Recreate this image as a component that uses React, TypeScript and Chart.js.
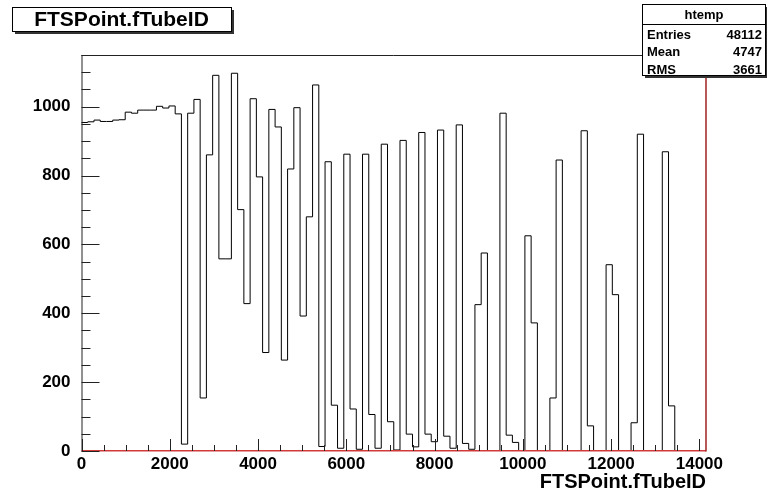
import React, { useEffect, useRef } from 'react';
import { Chart, registerables } from 'chart.js';

Chart.register(...registerables);

// ---- data ----
const xMin = 0;
const xMax = 14150;
const binCounts = [
  952, 954, 956, 961, 957, 957, 961, 962, 984, 981,
  990, 990, 990, 1001, 996, 1002, 979, 20, 981, 1021,
  154, 860, 1091, 558, 558, 1097, 701, 428, 1023, 796,
  286, 992, 941, 264, 819, 997, 392, 680, 1063, 13,
  840, 133, 8, 862, 122, 5, 862, 106, 8, 891,
  85, 3, 902, 49, 12, 925, 49, 27, 932, 43,
  8, 947, 22, 5, 425, 575, 0, 0, 981, 46,
  25, 0, 625, 372, 0, 0, 154, 845, 0, 0,
  0, 930, 73, 0, 0, 541, 454, 0, 0, 82,
  920, 0, 0, 0, 869, 131, 0, 0, 0, 0,
];
const xTickValues = [0, 2000, 4000, 6000, 8000, 10000, 12000, 14000];
const yTickValues = [0, 200, 400, 600, 800, 1000];
const yMax = 1150;
const histTitle = 'FTSPoint.fTubeID';
const xAxisTitle = 'FTSPoint.fTubeID';
const statsName = 'htemp';
const statsLabels = ['Entries', 'Mean', 'RMS'];
const statsValues = ['48112', '4747', '3661'];

const FONT = '"Liberation Sans", Arial, Helvetica, sans-serif';

export default function App() {
  const ref = useRef<HTMLCanvasElement>(null);

  useEffect(() => {
    const canvas = ref.current!;
    const binWidth = (xMax - xMin) / binCounts.length;
    const points = binCounts.map((v, i) => ({ x: xMin + i * binWidth, y: v }));
    points.push({ x: xMax, y: binCounts[binCounts.length - 1] });

    const rootPlugin = {
      id: 'rootDecor',
      afterDraw(chart: any) {
        const ctx = chart.ctx as CanvasRenderingContext2D;
        const { left, right, top, bottom } = chart.chartArea;
        const xs = chart.scales.x;
        const ys = chart.scales.y;
        ctx.save();
        // frame
        ctx.lineWidth = 1;
        ctx.strokeStyle = '#222';
        ctx.beginPath();
        ctx.moveTo(left, top + 0.5);
        ctx.lineTo(right, top + 0.5);
        ctx.moveTo(left + 0.5, top);
        ctx.lineTo(left + 0.5, bottom);
        ctx.stroke();
        ctx.strokeStyle = '#d23a3a';
        ctx.lineWidth = 1.5;
        ctx.beginPath();
        ctx.moveTo(left, Math.round(bottom) - 0.25);
        ctx.lineTo(right, Math.round(bottom) - 0.25);
        ctx.stroke();
        ctx.strokeStyle = '#a02020';
        ctx.lineWidth = 1.5;
        ctx.beginPath();
        ctx.moveTo(right, top);
        ctx.lineTo(right, bottom + 0.5);
        ctx.stroke();

        // y ticks (inward)
        ctx.strokeStyle = '#222';
        ctx.lineWidth = 1;
        ctx.beginPath();
        for (let v = 0; v <= yMax; v += 50) {
          const py = Math.round(ys.getPixelForValue(v)) + 0.5;
          const len = v % 200 === 0 ? 18 : 9;
          ctx.moveTo(left, py);
          ctx.lineTo(left + len, py);
        }
        // x ticks (upward)
        for (let v = 0; v <= xMax; v += 500) {
          const px = Math.round(xs.getPixelForValue(v)) + 0.5;
          const len = v % 2000 === 0 ? 12 : 6;
          ctx.moveTo(px, bottom);
          ctx.lineTo(px, bottom - len);
        }
        ctx.stroke();

        // title box
        const tb = { x: 12, y: 7, w: 219, h: 24 };
        ctx.fillStyle = '#333';
        ctx.fillRect(tb.x + 3, tb.y + 3, tb.w, tb.h);
        ctx.fillStyle = '#fff';
        ctx.fillRect(tb.x, tb.y, tb.w, tb.h);
        ctx.strokeStyle = '#000';
        ctx.strokeRect(tb.x + 0.5, tb.y + 0.5, tb.w, tb.h);
        ctx.fillStyle = '#000';
        ctx.font = `bold 21px ${FONT}`;
        ctx.textAlign = 'center';
        ctx.textBaseline = 'middle';
        ctx.fillText(histTitle, tb.x + tb.w / 2, tb.y + tb.h / 2 + 1);

        // stats box
        const sb = { x: 642, y: 4, w: 124, h: 71 };
        ctx.fillStyle = '#333';
        ctx.fillRect(sb.x + 3, sb.y + 3, sb.w, sb.h);
        ctx.fillStyle = '#fff';
        ctx.fillRect(sb.x, sb.y, sb.w, sb.h);
        ctx.strokeStyle = '#000';
        ctx.strokeRect(sb.x + 0.5, sb.y + 0.5, sb.w - 1, sb.h);
        ctx.beginPath();
        ctx.moveTo(sb.x, sb.y + 20.5);
        ctx.lineTo(sb.x + sb.w, sb.y + 20.5);
        ctx.stroke();
        ctx.fillStyle = '#000';
        ctx.font = `bold 13px ${FONT}`;
        ctx.textAlign = 'center';
        ctx.fillText(statsName, sb.x + sb.w / 2, sb.y + 11);
        statsLabels.forEach((lab, i) => {
          const yy = sb.y + 31 + i * 17.5;
          ctx.textAlign = 'left';
          ctx.fillText(lab, sb.x + 5, yy);
          ctx.textAlign = 'right';
          ctx.fillText(statsValues[i], sb.x + sb.w - 4, yy);
        });
        ctx.restore();
      },
    };

    const chart = new Chart(canvas, {
      type: 'line',
      data: {
        datasets: [
          {
            label: 'htemp',
            data: points,
            stepped: 'after',
            borderColor: '#000',
            borderWidth: 1,
            pointRadius: 0,
            fill: false,
          },
        ],
      },
      options: {
        responsive: false,
        animation: false,
        devicePixelRatio: 1,
        layout: { padding: { top: 55, right: 61, left: 0, bottom: 0 } },
        plugins: { legend: { display: false }, tooltip: { enabled: false }, title: { display: false } },
        scales: {
          x: {
            type: 'linear',
            min: xMin,
            max: xMax,
            grid: { display: false, drawTicks: false },
            border: { display: false },
            afterBuildTicks: (s: any) => {
              s.ticks = xTickValues.map((v) => ({ value: v }));
            },
            afterFit: (s: any) => {
              s.height = 44;
            },
            ticks: {
              autoSkip: false,
              maxRotation: 0,
              padding: 3,
              color: '#000',
              font: { family: FONT, size: 17, weight: 'bold' },
              callback: (v: any) => String(v),
            },
            title: {
              display: true,
              text: xAxisTitle,
              align: 'end',
              color: '#000',
              font: { family: FONT, size: 20, weight: 'bold' },
              padding: { top: 0, bottom: 1 },
            },
          },
          y: {
            type: 'linear',
            min: 0,
            max: yMax,
            grid: { display: false, drawTicks: false },
            border: { display: false },
            afterBuildTicks: (s: any) => {
              s.ticks = yTickValues.map((v) => ({ value: v }));
            },
            afterFit: (s: any) => {
              s.width = 81.5;
            },
            ticks: {
              autoSkip: false,
              padding: 11,
              color: '#000',
              font: { family: FONT, size: 17, weight: 'bold' },
              callback: (v: any) => String(v),
            },
          },
        },
      },
      plugins: [rootPlugin],
    });
    return () => chart.destroy();
  }, []);

  return (
    <div style={{ position: 'fixed', left: 0, top: 0, width: 767, height: 495, background: '#fff' }}>
      <canvas ref={ref} width={767} height={495} style={{ width: 767, height: 495, display: 'block' }} />
    </div>
  );
}
